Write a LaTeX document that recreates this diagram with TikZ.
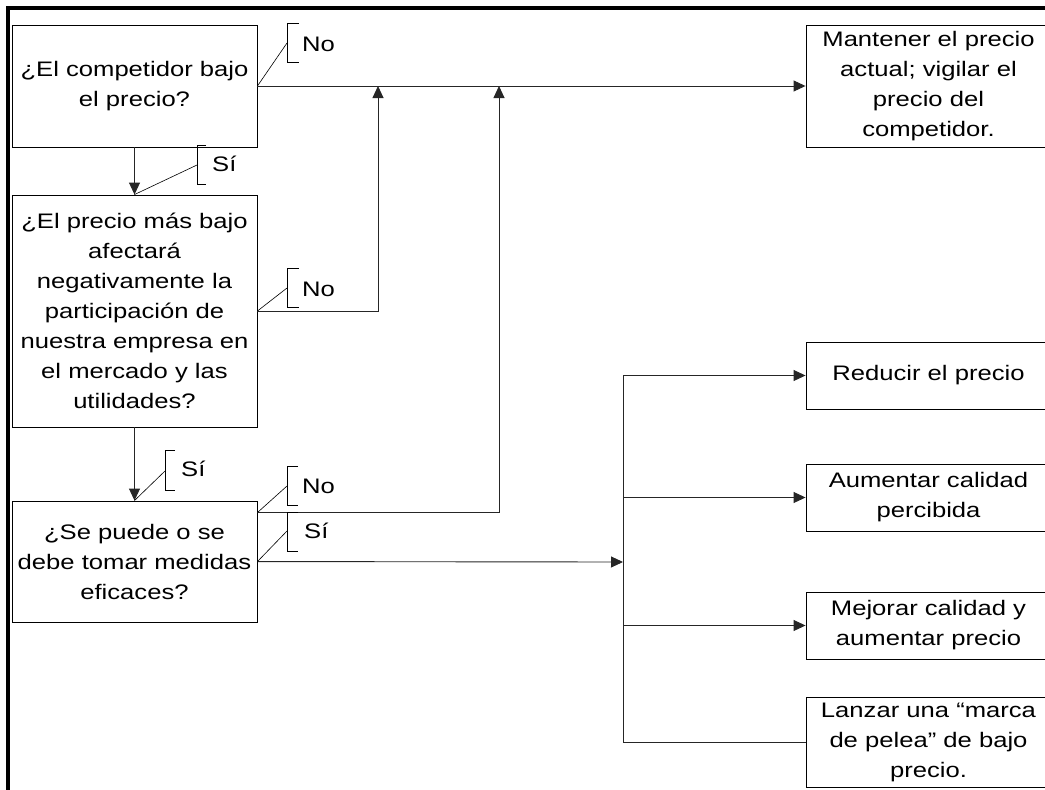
\documentclass[tikz,border=0pt]{standalone}
\usepackage{fontspec}
\setmainfont{Liberation Sans}[FakeStretch=1.22]
\usetikzlibrary{arrows.meta,calc}
\begin{document}
\begin{tikzpicture}[x=1pt,y=-1pt,
  txt/.style={font=\fontsize{21}{30}\selectfont},
  box/.style={txt,draw,line width=0.9pt,align=center,minimum width=245pt,inner sep=0pt},
  conn/.style={line width=0.9pt,draw=black!85},
  arr/.style={conn,-{Triangle[length=12pt,width=11pt]}},
  callout/.style={line width=0.6pt},
  lbl/.style={txt,anchor=west,inner sep=0pt}]
\useasboundingbox (0,0) rectangle (1045,790);
\begin{scope}
\clip (0,0) rectangle (1045,790);
% frame lines on top and left
\draw[line width=4pt] (8,790) -- (8,8) -- (1045,8);

% decision boxes
\node[box,minimum height=122pt] (q1) at (134.5,86) {¿El competidor bajo\\el precio?};
\node[box,minimum height=232pt] (q2) at (134.5,311) {¿El precio más bajo\\afectará\\negativamente la\\participación de\\nuestra empresa en\\el mercado y las\\utilidades?};
\node[box,minimum height=121pt] (q3) at (134.5,561.5) {¿Se puede o se\\debe tomar medidas\\eficaces?};

% outcome boxes
\node[box,minimum height=122pt] (keep) at (928.5,86) {Mantener el precio\\actual; vigilar el\\precio del\\competidor.};
\node[box,minimum height=67pt] (cut) at (928.5,375.5) {Reducir el precio};
\node[box,minimum height=67pt] (perc) at (928.5,497.5) {Aumentar calidad\\percibida};
\node[box,minimum height=67pt] (impr) at (928.5,625.5) {Mejorar calidad y\\aumentar precio};
\node[box,minimum height=90pt] (fight) at (928.5,742) {Lanzar una “marca\\de pelea” de bajo\\precio.};

% junction points
\coordinate (q1e) at (q1.east);
\coordinate (q2e) at (q2.east);
\coordinate (q3no) at ($(q3.north east)+(0,12)$);
\coordinate (q3si) at ($(q3.north east)+(0,61)$);
\coordinate (up1) at (378,86);
\coordinate (up2) at (499,86);
\coordinate (bus) at (623,562);
\coordinate (busT) at (623,375.5);
\coordinate (busB) at (623,742);

% connectors
\draw[arr] (q1e) -- (keep.west);
\draw[arr] (q1.south) -- (q2.north);
\draw[arr] (q2.south) -- (q3.north);
\draw[arr] (q2e) -| (up1);
\draw[arr] (q3no) -| (up2);
\draw[arr] (q3si) -- (bus);
\draw[conn] (busT) -- (busB);
\draw[arr] (busT) -- (cut.west);
\draw[arr] (623,497.5) -- (perc.west);
\draw[arr] (623,625.5) -- (impr.west);
\draw[conn] (busB) -- (fight.west);

% branch labels with bracket callouts
\coordinate (c1) at (287,43);
\draw[callout] (q1e) -- (c1);
\draw[callout] (299,23) -- (287,23) -- (287,62) -- (299,62);
\node[lbl] (n1) at (302,44) {No};

\coordinate (c2) at (197,165);
\draw[callout] (q2.north) -- (c2);
\draw[callout] (206,145) -- (197,145) -- (197,184) -- (206,184);
\node[lbl] (s1) at (212,164) {Sí};

\coordinate (c3) at (287,288);
\draw[callout] (q2e) -- (c3);
\draw[callout] (299,268) -- (287,268) -- (287,307) -- (299,307);
\node[lbl] (n2) at (302,289) {No};

\coordinate (c4) at (165,471);
\draw[callout] (q3.north) -- (c4);
\draw[callout] (175,450) -- (165,450) -- (165,490) -- (175,490);
\node[lbl] (s2) at (181,469) {Sí};

\coordinate (c5) at (287,486);
\draw[callout] (q3no) -- (c5);
\draw[callout] (298,466) -- (287,466) -- (287,505) -- (298,505);
\node[lbl] (n3) at (302,486) {No};

\coordinate (c6) at (287,531);
\draw[callout] (q3si) -- (c6);
\draw[callout] (298,512) -- (287,512) -- (287,551) -- (298,551);
\node[lbl] (s3) at (304,531) {Sí};
\end{scope}
\end{tikzpicture}
\end{document}
